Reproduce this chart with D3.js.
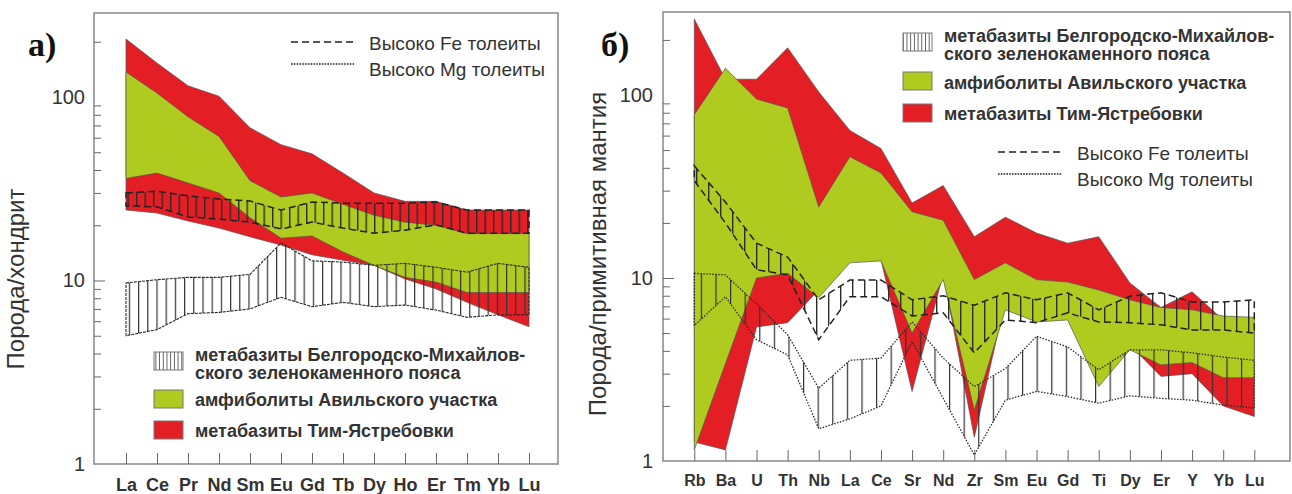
<!DOCTYPE html>
<html>
<head>
<meta charset="utf-8">
<script src="https://cdn.jsdelivr.net/npm/d3@7"></script>
<style>
  body { margin: 0; background: #fff; }
  svg { display: block; }
</style>
</head>
<body>
<svg id="chart" width="1292" height="494"></svg>
<script>
// ---- Panel a: REE, rock / chondrite ----
const reeLabels   = ["La","Ce","Pr","Nd","Sm","Eu","Gd","Tb","Dy","Ho","Er","Tm","Yb","Lu"];
const reeTimMax   = [207,153,115,101,68,55,49,38.5,30,27,27,24.2,24.2,24.2];
const reeTimMin   = [24.2,23.3,21.1,19.3,17.3,15.6,13.8,12.9,12.1,10.2,9.0,7.6,6.5,5.6];
const reeAvilMax  = [137,105,78,61,35,28.5,30,26,22.7,20.8,20,18,18,18];
const reeAvilMin  = [36,38.5,34,30,22,17,17.5,14.3,12.1,10.4,9.8,8.6,8.6,8.6];
const reeFeMax    = [30,30.7,28.9,27.8,27.1,24.2,26.8,26.4,26.4,26.4,26.8,24.2,24.2,24.2];
const reeFeMin    = [25.5,25.2,22.2,21.6,20.8,19.1,20.8,19.3,18.1,18.8,20.1,18.1,18.1,18.1];
const reeMgMax    = [9.7,10.1,10.4,10.4,10.8,16,12.8,12.6,12.1,12.4,11.8,11.1,12.4,11.8];
const reeMgMin    = [5.0,5.4,6.6,6.7,7.0,8.1,7.2,7.6,7.2,7.35,6.9,6.3,6.5,6.5];

// ---- Panel б: trace elements, rock / primitive mantle ----
const pmLabels    = ["Rb","Ba","U","Th","Nb","La","Ce","Sr","Nd","Zr","Sm","Eu","Gd","Ti","Dy","Er","Y","Yb","Lu"];
const pmTimMax    = [260,122,122,181,104,64,51,25.7,32,16.8,21.5,17.6,15.5,16.8,9.4,6.9,8.4,5.9,5.5];
const pmTimMin    = [1.27,1.15,5.4,5.7,8.6,13.4,12.6,2.4,10.5,1.35,7.6,6.5,6.5,4.6,4.3,2.9,3.0,2.0,1.75];
const pmAvilMax   = [78,140,95,85,24.4,46,37.5,23,20.7,9.8,12.1,9.8,9.5,8.6,7.6,6.9,6.7,6.2,6.1];
const pmAvilMin   = [1.15,3.4,10,10.6,7.8,12.1,12.4,5.0,9.8,1.9,6.7,5.75,5.9,2.55,4.05,3.35,3.45,2.85,2.85];
const pmFeMax     = [41,26,15.5,13,7.6,9.75,9.75,7.6,8.0,7.1,8.3,7.6,8.3,6.7,7.95,8.3,7.4,7.4,7.6];
const pmFeMin     = [34,20,11.1,10.4,4.6,7.9,7.9,6.2,6.45,3.9,5.9,5.7,6.45,5.75,5.7,5.55,5.2,5.2,5.0];
const pmMgMax     = [10.6,10.4,7.2,4.9,2.5,3.55,3.65,5.75,3.65,2.55,3.2,4.8,4.2,3.15,4.05,4.05,3.9,3.7,3.55];
const pmMgMin     = [5.5,7.9,4.6,3.8,1.5,1.7,2.0,4.5,2.2,1.08,2.15,2.4,2.25,2.07,2.27,2.2,2.15,2.02,1.95];

// ---- Axis ticks and text ----
const yLabelValues = [1, 10, 100];
const yMajorTicks  = [10];
const yMinorTicks  = [2,3,4,5,6,7,8,9,20,30,40,50,60,70,80,90,200];
const fieldLegend  = [
  ["метабазиты Белгородско-Михайлов-", "ского зеленокаменного пояса"],
  ["амфиболиты Авильского участка"],
  ["метабазиты Тим-Ястребовки"]
];
const lineLegend   = ["Высоко Fe толеиты", "Высоко Mg толеиты"];

const RED = "#e31e24", GREEN = "#b0cb1f", INK = "#333";
const SANS = "'Liberation Sans', Arial, sans-serif";
const SERIF = "'Liberation Serif', 'Times New Roman', serif";

const svg = d3.select("#chart");
const defs = svg.append("defs");

// vertical-line hatching used for the tholeiite fields
function hatchPattern(id, step, width, color) {
  const p = defs.append("pattern")
    .attr("id", id).attr("patternUnits", "userSpaceOnUse")
    .attr("width", step).attr("height", 10);
  p.append("rect").attr("width", width).attr("height", 10).attr("fill", color);
}
hatchPattern("hatchFeA", 8.5, 1.4, "#2b2b2b");
hatchPattern("hatchMgA", 9.2, 1.2, "#333");
hatchPattern("hatchFeB", 12, 1.4, "#2b2b2b");
hatchPattern("hatchMgB", 14.6, 1.2, "#333");
hatchPattern("hatchKey", 3.7, 0.9, "#555");

function drawPanel(cfg) {
  const g = svg.append("g");
  const { left, top, right, bottom } = cfg.frame;

  const x = d3.scalePoint().domain(cfg.labels).range(cfg.xRange);
  const y = d3.scaleLog().domain([1, 100]).range(cfg.yRange);

  const clipId = cfg.id + "clip";
  defs.append("clipPath").attr("id", clipId)
    .append("rect").attr("x", left).attr("y", top)
    .attr("width", right - left).attr("height", bottom - top);

  const band = (hi, lo) => d3.area()
    .x((d, i) => x(cfg.labels[i]))
    .y0((d, i) => y(lo[i]))
    .y1((d, i) => y(hi[i]))(hi) + "Z";

  const plot = g.append("g").attr("clip-path", `url(#${clipId})`);

  plot.append("path").attr("d", band(cfg.tim[0], cfg.tim[1]))
    .attr("fill", RED).attr("stroke", "#555").attr("stroke-width", 0.7);
  plot.append("path").attr("d", band(cfg.avil[0], cfg.avil[1]))
    .attr("fill", GREEN).attr("stroke", "#555").attr("stroke-width", 0.7);

  plot.append("path").attr("d", band(cfg.mg[0], cfg.mg[1]))
    .attr("fill", `url(#${cfg.mgHatch})`)
    .attr("stroke", "#2b2b2b").attr("stroke-width", cfg.mgWidth)
    .attr("stroke-dasharray", cfg.mgDash);
  plot.append("path").attr("d", band(cfg.fe[0], cfg.fe[1]))
    .attr("fill", `url(#${cfg.feHatch})`)
    .attr("stroke", "#222").attr("stroke-width", 1.5)
    .attr("stroke-dasharray", "7,4");

  // frame
  g.append("rect").attr("x", left).attr("y", top)
    .attr("width", right - left).attr("height", bottom - top)
    .attr("fill", "none").attr("stroke", "#8f8f8f").attr("stroke-width", 1.6);

  // category axis
  const xa = g.append("g").attr("transform", `translate(0,${bottom})`)
    .call(d3.axisBottom(x).tickSize(-11).tickPadding(14));
  xa.select(".domain").remove();
  xa.selectAll("line").attr("stroke", "#666").attr("stroke-width", 1);
  xa.selectAll("text").attr("font-family", SANS).attr("font-weight", "bold")
    .attr("font-size", cfg.xFont).attr("fill", INK);

  // log axis: minor ticks, major ticks, labels
  const yMinor = g.append("g").attr("transform", `translate(${left},0)`)
    .call(d3.axisLeft(y).tickValues(yMinorTicks).tickSize(-7).tickFormat(""));
  const yMajor = g.append("g").attr("transform", `translate(${left},0)`)
    .call(d3.axisLeft(y).tickValues(yMajorTicks).tickSize(-11).tickFormat(""));
  const yLab = g.append("g").attr("transform", `translate(${left},0)`)
    .call(d3.axisLeft(y).tickValues(yLabelValues).tickSize(0).tickPadding(cfg.yPad)
      .tickFormat(d3.format("d")));
  [yMinor, yMajor, yLab].forEach(a => {
    a.select(".domain").remove();
    a.selectAll("line").attr("stroke", "#666").attr("stroke-width", 1);
  });
  yLab.selectAll("text").attr("font-family", SANS).attr("font-size", 20).attr("fill", INK);

  // axis title
  g.append("text")
    .attr("transform", `translate(${cfg.title.x},${cfg.title.y}) rotate(-90)`)
    .attr("text-anchor", "middle").attr("font-family", SANS).attr("font-size", 24)
    .attr("fill", INK).text(cfg.title.text);

  // panel letter
  g.append("text").attr("x", cfg.letter.x).attr("y", cfg.letter.y)
    .attr("font-family", SERIF).attr("font-weight", "bold").attr("font-size", 34)
    .attr("fill", "#111").text(cfg.letter.text);

  // field legend
  const fl = cfg.fieldKey;
  const keyFills = ["url(#hatchKey)", GREEN, RED];
  fieldLegend.forEach((lines, i) => {
    const k = fl.rows[i];
    g.append("rect").attr("x", fl.x).attr("y", k.box).attr("width", 29).attr("height", 18)
      .attr("fill", keyFills[i]).attr("stroke", "#777").attr("stroke-width", 1);
    lines.forEach((t, j) => {
      g.append("text").attr("x", fl.x + 41).attr("y", k.base + j * 17.5)
        .attr("font-family", SANS).attr("font-weight", "bold").attr("font-size", 18)
        .attr("fill", INK).text(t);
    });
  });

  // line legend
  const ll = cfg.lineKey;
  const dashes = ["7,4", "1.6,1.2"];
  const widths = [1.6, 1.3];
  lineLegend.forEach((t, i) => {
    const r = ll.rows[i];
    g.append("line").attr("x1", ll.x1).attr("x2", ll.x2).attr("y1", r.line).attr("y2", r.line)
      .attr("stroke", "#222").attr("stroke-width", widths[i]).attr("stroke-dasharray", dashes[i]);
    g.append("text").attr("x", ll.tx).attr("y", r.base)
      .attr("font-family", SANS).attr("font-size", 19).attr("fill", INK).text(t);
  });
}

drawPanel({
  id: "a",
  labels: reeLabels,
  frame: { left: 94, top: 13, right: 558, bottom: 464 },
  xRange: [126, 529], yRange: [464, 97],
  tim: [reeTimMax, reeTimMin], avil: [reeAvilMax, reeAvilMin],
  fe: [reeFeMax, reeFeMin], mg: [reeMgMax, reeMgMin],
  feHatch: "hatchFeA", mgHatch: "hatchMgA", mgDash: "3,1", mgWidth: 1.1,
  xFont: 18, yPad: 9,
  title: { x: 24, y: 279, text: "Порода/хондрит" },
  letter: { x: 28, y: 56, text: "а)" },
  fieldKey: { x: 154, rows: [{ box: 352, base: 361 }, { box: 390, base: 406 }, { box: 421, base: 437 }] },
  lineKey: { x1: 291, x2: 354, tx: 369, rows: [{ line: 42, base: 50 }, { line: 64, base: 76 }] }
});

drawPanel({
  id: "b",
  labels: pmLabels,
  frame: { left: 663, top: 12, right: 1290, bottom: 461 },
  xRange: [694.3, 1254.3], yRange: [461, 95],
  tim: [pmTimMax, pmTimMin], avil: [pmAvilMax, pmAvilMin],
  fe: [pmFeMax, pmFeMin], mg: [pmMgMax, pmMgMin],
  feHatch: "hatchFeB", mgHatch: "hatchMgB", mgDash: "1.5,1.5", mgWidth: 1.3,
  xFont: 16, yPad: 10,
  title: { x: 606, y: 254, text: "Порода/примитивная мантия" },
  letter: { x: 601, y: 56, text: "б)" },
  fieldKey: { x: 903, rows: [{ box: 33, base: 42 }, { box: 72, base: 89 }, { box: 104, base: 120 }] },
  lineKey: { x1: 998, x2: 1062, tx: 1077, rows: [{ line: 152, base: 160 }, { line: 174, base: 186 }] }
});
</script>
</body>
</html>
